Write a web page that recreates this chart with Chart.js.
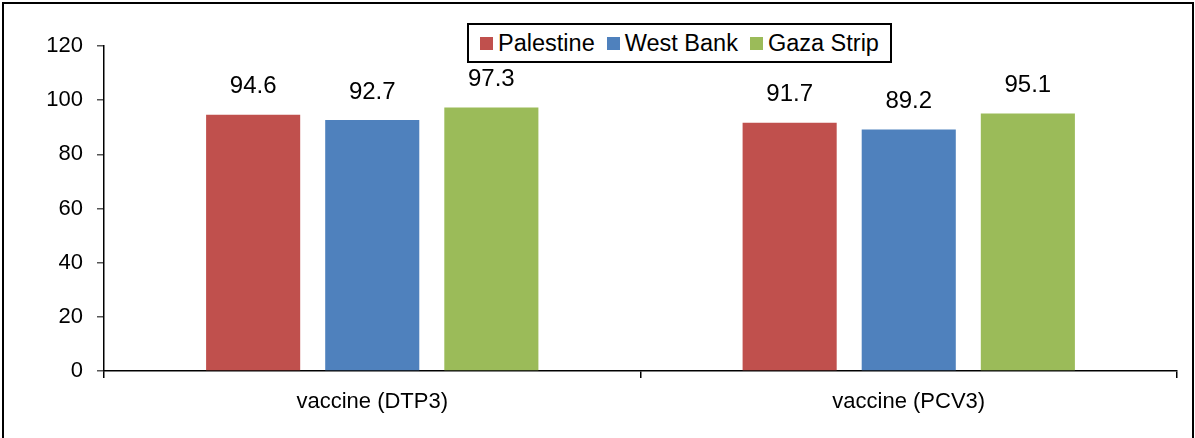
<!DOCTYPE html>
<html>
<head>
<meta charset="utf-8">
<script src="https://cdn.jsdelivr.net/npm/chart.js@4"></script>
<style>
  html, body { margin: 0; padding: 0; background: #fff; }
  body { width: 1195px; height: 438px; position: relative; overflow: hidden; font-family: "Liberation Sans", Arial, sans-serif; }
  #frame { position: absolute; left: 2px; top: 2px; width: 1188px; height: 460px; border: 2px solid #000; }
  #wrap { position: absolute; left: 0; top: 0; width: 1195px; height: 438px; }
  #legend { position: absolute; left: 467px; top: 23px; width: 421px; height: 36px; border: 2px solid #000; background: #fff;
            display: flex; align-items: center; justify-content: center; gap: 12px; font-size: 23.5px; color: #000; }
  #legend span.item { display: flex; align-items: center; }
  #legend i { display: inline-block; width: 13px; height: 13px; margin-right: 5px; }
</style>
</head>
<body>
<div id="frame"></div>
<div id="wrap"><canvas id="chart" width="1195" height="438"></canvas></div>
<div id="legend"></div>
<script>
// categories and series
const categories = ['vaccine (DTP3)', 'vaccine (PCV3)'];
const seriesNames = ['Palestine', 'West Bank', 'Gaza Strip'];
const palestine = [94.6, 91.7];
const westBank = [92.7, 89.2];
const gazaStrip = [97.3, 95.1];
const yTicks = [0, 20, 40, 60, 80, 100, 120];
const colors = ['#C0504D', '#4F81BD', '#9BBB59'];

const seriesValues = [palestine, westBank, gazaStrip];

// html legend with the box round it
const legend = document.getElementById('legend');
seriesNames.forEach((name, i) => {
    const item = document.createElement('span');
    item.className = 'item';
    item.innerHTML = `<i style="background:${colors[i]}"></i>${name}`;
    legend.appendChild(item);
});

// value labels above the bars
const barLabels = {
    id: 'barLabels',
    afterDatasetsDraw(chart) {
        const ctx = chart.ctx;
        ctx.save();
        ctx.font = '24px "Liberation Sans", Arial, sans-serif';
        ctx.fillStyle = '#000';
        ctx.textAlign = 'center';
        ctx.textBaseline = 'bottom';
        chart.data.datasets.forEach((ds, i) => {
            chart.getDatasetMeta(i).data.forEach((bar, j) => {
                ctx.fillText(ds.data[j].toFixed(1), bar.x, bar.y - 16);
            });
        });
        ctx.restore();
    }
};

new Chart(document.getElementById('chart'), {
    type: 'bar',
    data: {
        labels: categories,
        datasets: seriesValues.map((vals, i) => ({
            label: seriesNames[i],
            data: vals,
            backgroundColor: colors[i],
            borderWidth: 0,
            categoryPercentage: 0.666,
            barPercentage: 0.79
        }))
    },
    options: {
        responsive: false,
        animation: false,
        events: [],
        layout: { padding: { left: 0, right: 18, top: 46, bottom: 0 } },
        plugins: { legend: { display: false }, tooltip: { enabled: false }, title: { display: false } },
        scales: {
            x: {
                afterFit(scale) { scale.height = 67; },
                border: { color: '#000', width: 1.5 },
                grid: { drawOnChartArea: false, offset: true, tickLength: 7, color: '#000', lineWidth: 1.5 },
                ticks: { color: '#000', padding: 11, font: { family: '"Liberation Sans", Arial, sans-serif', size: 22 } }
            },
            y: {
                min: 0,
                max: 120,
                afterFit(scale) { scale.width = 104; },
                afterBuildTicks(scale) { scale.ticks = yTicks.map(v => ({ value: v })); },
                border: { color: '#000', width: 1.5 },
                grid: { drawOnChartArea: false, tickLength: 7, color: '#555', lineWidth: 1.5 },
                ticks: { color: '#000', padding: 14, font: { family: '"Liberation Sans", Arial, sans-serif', size: 22 } }
            }
        }
    },
    plugins: [barLabels]
});
</script>
</body>
</html>
